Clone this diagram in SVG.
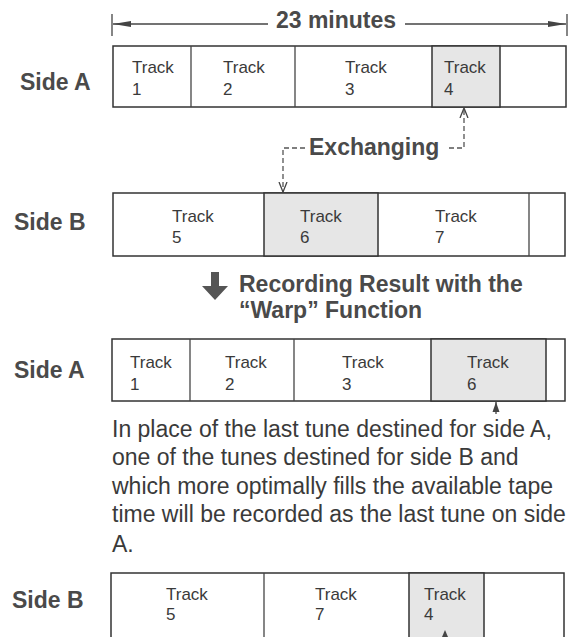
<svg xmlns="http://www.w3.org/2000/svg" width="577" height="637" viewBox="0 0 577 637">
<style>
.bg{fill:#fff}
.cell{fill:#fff;stroke:#333;stroke-width:1.5}
.gray{fill:#e6e6e6;stroke:#333;stroke-width:1.5}
.trk{font-family:"Liberation Sans",Arial,sans-serif;font-size:17px;fill:#3a3a3a}
.lbl{font-family:"Liberation Sans",Arial,sans-serif;font-size:23px;font-weight:bold;fill:#4a4a4a}
.para{font-family:"Liberation Sans",Arial,sans-serif;font-size:23px;fill:#3a3a3a}
.line{stroke:#444;stroke-width:1.3;fill:none}
.dash{stroke:#555;stroke-width:1.3;fill:none;stroke-dasharray:5 3}
</style>
<defs>
<marker id="dimArrow" viewBox="0 0 18 8" refX="18" refY="4" markerWidth="18" markerHeight="8" markerUnits="userSpaceOnUse" orient="auto">
<path d="M0,1 L18,4 L0,7 Z" fill="#444"/>
</marker>
<marker id="vArrow" viewBox="0 0 10 10" refX="10" refY="5" markerWidth="10" markerHeight="10" markerUnits="userSpaceOnUse" orient="auto">
<path d="M0,1 L10,5 L0,9" fill="none" stroke="#444" stroke-width="1.3"/>
</marker>
<marker id="solidArrow" viewBox="0 0 10 8" refX="10" refY="4" markerWidth="10" markerHeight="8" markerUnits="userSpaceOnUse" orient="auto">
<path d="M0,0.5 L10,4 L0,7.5 Z" fill="#444"/>
</marker>
</defs>
<rect class="bg" x="0" y="0" width="577" height="637"/>

<g id="dimension">
<line class="line" x1="112" y1="14" x2="112" y2="36"/>
<line class="line" x1="567" y1="14" x2="567" y2="36"/>
<text class="lbl" x="336" y="28" text-anchor="middle">23 minutes</text>
</g>

<g id="row1-sideA">
<text class="lbl" x="20" y="90">Side A</text>
<rect class="cell" x="113" y="46" width="453" height="61"/>
<rect class="gray" x="432" y="46" width="68" height="61"/>
<line class="line" x1="191" y1="46" x2="191" y2="107"/>
<line class="line" x1="295" y1="46" x2="295" y2="107"/>
<text class="trk" x="132" y="73">Track</text><text class="trk" x="132" y="95">1</text>
<text class="trk" x="223" y="73">Track</text><text class="trk" x="223" y="95">2</text>
<text class="trk" x="345" y="73">Track</text><text class="trk" x="345" y="95">3</text>
<text class="trk" x="444" y="73">Track</text><text class="trk" x="444" y="95">4</text>
</g>

<g id="exchanging">
<text class="lbl" x="309" y="155">Exchanging</text>
</g>

<g id="row2-sideB">
<text class="lbl" x="14" y="230">Side B</text>
<rect class="cell" x="113" y="193" width="452" height="63"/>
<rect class="gray" x="264" y="193" width="114" height="63"/>
<line class="line" x1="529" y1="193" x2="529" y2="256"/>
<text class="trk" x="172" y="222">Track</text><text class="trk" x="172" y="243">5</text>
<text class="trk" x="300" y="222">Track</text><text class="trk" x="300" y="243">6</text>
<text class="trk" x="435" y="222">Track</text><text class="trk" x="435" y="243">7</text>
</g>

<g id="result-heading">
<path d="M211,272 H219 V286 H228 L215,300 L202,286 H211 Z" fill="#555"/>
<text class="lbl" x="239" y="292">Recording Result with the</text>
<text class="lbl" x="239" y="318">“Warp” Function</text>
</g>

<g id="row3-sideA">
<text class="lbl" x="14" y="378">Side A</text>
<rect class="cell" x="112" y="339" width="453" height="62"/>
<rect class="gray" x="431" y="339" width="115" height="62"/>
<line class="line" x1="190" y1="339" x2="190" y2="401"/>
<line class="line" x1="294" y1="339" x2="294" y2="401"/>
<text class="trk" x="130" y="368">Track</text><text class="trk" x="130" y="390">1</text>
<text class="trk" x="225" y="368">Track</text><text class="trk" x="225" y="390">2</text>
<text class="trk" x="342" y="368">Track</text><text class="trk" x="342" y="390">3</text>
<text class="trk" x="467" y="368">Track</text><text class="trk" x="467" y="390">6</text>
</g>

<g id="note">
<text class="para" x="112" y="437">In place of the last tune destined for side A,</text>
<text class="para" x="112" y="465">one of the tunes destined for side B and</text>
<text class="para" x="112" y="494">which more optimally fills the available tape</text>
<text class="para" x="112" y="522">time will be recorded as the last tune on side</text>
<text class="para" x="112" y="552">A.</text>
</g>

<g id="row4-sideB">
<text class="lbl" x="12" y="608">Side B</text>
<rect class="cell" x="111" y="573" width="453" height="70"/>
<rect class="gray" x="409" y="573" width="75" height="70"/>
<line class="line" x1="264" y1="573" x2="264" y2="643"/>
<text class="trk" x="166" y="600">Track</text><text class="trk" x="166" y="620">5</text>
<text class="trk" x="315" y="600">Track</text><text class="trk" x="315" y="620">7</text>
<text class="trk" x="424" y="600">Track</text><text class="trk" x="424" y="620">4</text>
</g>

<g id="connectors">
<line class="line" x1="268" y1="24" x2="113" y2="24" marker-end="url(#dimArrow)"/>
<line class="line" x1="405" y1="24" x2="566" y2="24" marker-end="url(#dimArrow)"/>
<path class="dash" d="M449,148 H464 V108" marker-end="url(#vArrow)"/>
<path class="dash" d="M305,148 H283 V192" marker-end="url(#vArrow)"/>
<line class="line" x1="496" y1="414" x2="496" y2="402" marker-end="url(#solidArrow)"/>
<path d="M442,637 L445,630 L448,637 Z" fill="#444"/>
</g>
</svg>
